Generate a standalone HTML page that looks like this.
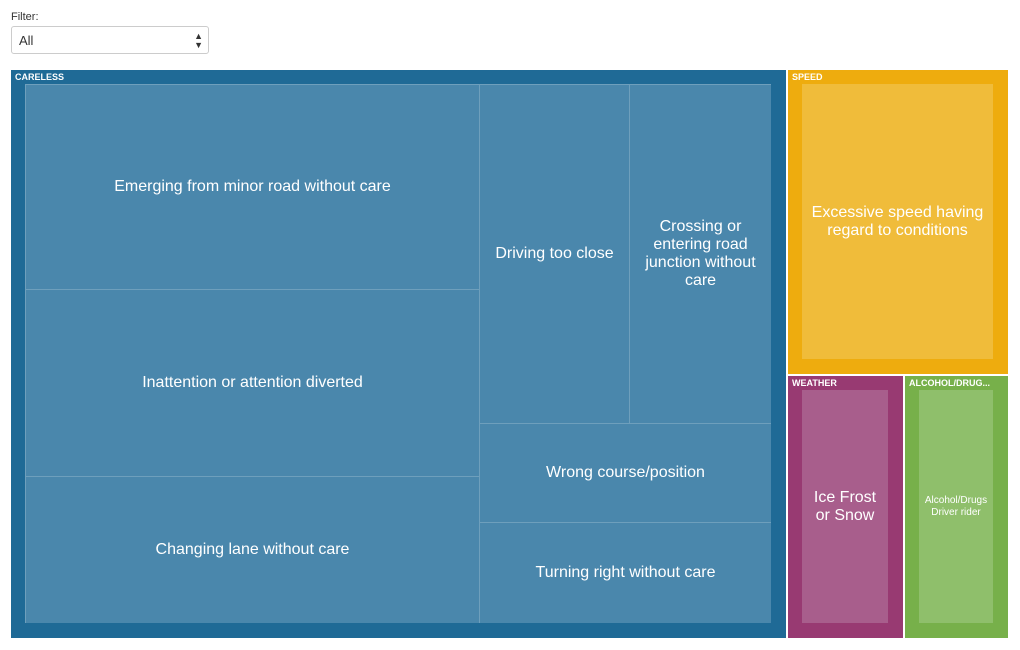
<!DOCTYPE html>
<html><head><meta charset="utf-8">
<style>
body{margin:0;background:#fff;font-family:"Liberation Sans",sans-serif;}
#wrap{position:relative;width:1020px;height:650px;overflow:hidden}
.lbl{position:absolute;left:11px;top:11px;font-size:11px;color:#333}
.sel{position:absolute;left:11px;top:26px;width:198px;height:28px;border:1px solid #ccc;border-radius:3px;box-sizing:border-box;font-size:13px;color:#333;line-height:28px;padding-left:7px}
.sel span{position:absolute;right:5px;top:0;font-size:9px;line-height:9px;padding-top:5px}
.r{position:absolute;box-sizing:border-box}
.h{position:absolute;left:4px;top:2px;font-size:9px;font-weight:bold;color:#fff;white-space:nowrap}
.c{display:flex;align-items:center;justify-content:center;text-align:center;color:#fff;font-size:16px;line-height:18px;padding:4px}
</style></head><body>
<div id="wrap">
<div class="lbl">Filter:</div>
<div class="sel">All<span>▲<br>▼</span></div>
<div id="tm"></div>
</div>
<script>
const groups=["CARELESS","SPEED","WEATHER","ALCOHOL/DRUG..."];
const groupValues=[4340,662,301,270];
const groupOuter=["#1f6a96","#eeac0e","#983a72","#77b04a"];
const groupInner=["#4a87ac","#f0bc3a","#a85e8c","#8fbf6b"];
const singleLeaf=["","Excessive speed having regard to conditions","Ice Frost or Snow","Alcohol/Drugs Driver rider"];
const carelessLeaves=["Emerging from minor road without care","Inattention or attention diverted","Changing lane without care","Driving too close","Crossing or entering road junction without care","Wrong course/position","Turning right without care"];
const carelessValues=[933,851,673,510,483,289,295];

const tm=document.getElementById('tm');
function box(x,y,w,h,bg,cls){const d=document.createElement('div');d.className='r '+(cls||'');
d.style.left=x+'px';d.style.top=y+'px';d.style.width=w+'px';d.style.height=h+'px';d.style.background=bg;tm.appendChild(d);return d;}
const X0=11,Y0=70,W=997,H=568,G=2;
const sum=a=>a.reduce((s,v)=>s+v,0);
const tot=sum(groupValues);
const cw=Math.round((W-G)*groupValues[0]/tot);
const rx=X0+cw+G, rw=W-cw-G;
const rest=groupValues[1]+groupValues[2]+groupValues[3];
const sh=Math.round((H-G)*groupValues[1]/rest);
const bw=Math.round((rw-G)*groupValues[2]/(groupValues[2]+groupValues[3]));
const rects=[[X0,Y0,cw,H],[rx,Y0,rw,sh],[rx,Y0+sh+G,bw,H-sh-G],[rx+bw+G,Y0+sh+G,rw-bw-G,H-sh-G]];
const names=['careless','speed','weather','alcohol-drugs'];
rects.forEach((r,i)=>{
 const g=box(r[0],r[1],r[2],r[3],groupOuter[i]);
 
 
 const h=document.createElement('div');h.className='h';h.textContent=groups[i];
 
 
 g.appendChild(h);
 const ix=r[0]+14,iy=r[1]+14,iw=r[2]-29,ih=r[3]-29;
 if(i>0){const c=box(ix,iy,iw,ih,groupInner[i],'c');c.textContent=singleLeaf[i];
  if(i===1){c.style.alignItems='flex-start';c.style.paddingTop='120px';}
  if(i===3){c.style.fontSize='10px';c.style.lineHeight='12px';}
  
  return;}
 const v=carelessValues, all=sum(v);
 const c1=v[0]+v[1]+v[2];
 const w1=Math.round(iw*c1/all);
 let yy=iy;const cells=[];
 for(let k=0;k<3;k++){const hh=Math.round(ih*v[k]/c1);cells.push([ix,yy,w1,k===2?iy+ih-yy:hh,k]);yy+=hh;}
 const x2=ix+w1,w2=iw-w1,c2=all-c1;
 const topH=Math.round(ih*(v[3]+v[4])/c2);
 const wd=Math.round(w2*v[3]/(v[3]+v[4]));
 cells.push([x2,iy,wd,topH,3]);cells.push([x2+wd,iy,w2-wd,topH,4]);
 const wh=Math.round(ih*v[5]/c2);
 cells.push([x2,iy+topH,w2,wh,5]);cells.push([x2,iy+topH+wh,w2,ih-topH-wh,6]);
 cells.forEach(c=>{const d=box(c[0],c[1],c[2],c[3],groupInner[0],'c');
  d.style.borderTop='1px solid rgba(255,255,255,0.2)';d.style.borderLeft='1px solid rgba(255,255,255,0.2)';
  d.textContent=carelessLeaves[c[4]];
  
  });
});
</script>
</body></html>
